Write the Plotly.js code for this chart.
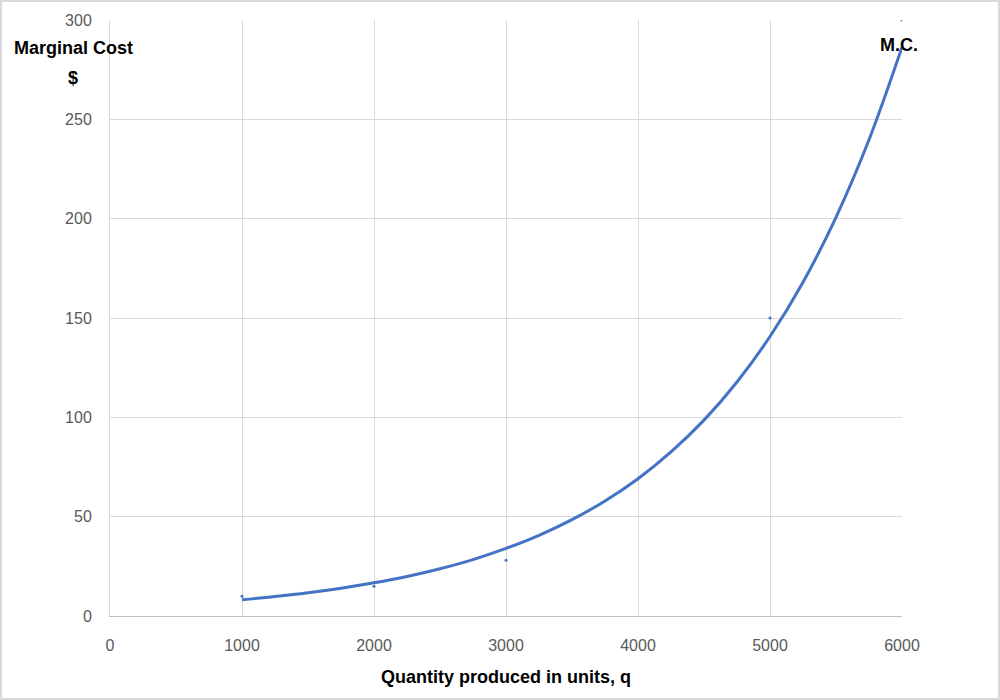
<!DOCTYPE html>
<html>
<head>
<meta charset="utf-8">
<script src="https://cdn.plot.ly/plotly-3.0.1.min.js"></script>
<style>
html,body{margin:0;padding:0;background:#fff;}
#chart{width:1000px;height:700px;box-sizing:border-box;border:2px solid #d9d9d9;}
</style>
</head>
<body>
<div id="chart"></div>
<script>
// Observed data points (tiny markers)
const pointQ = [1000, 2000, 3000, 5000, 6000];
const pointMC = [10, 15, 28, 150, 300];

// Fitted trend curve
const curveQ = [1000,1250,1500,1750,2000,2250,2500,2750,3000,3250,3500,3750,4000,4250,4500,4750,5000,5250,5500,5750,6000];
const curveMC = [8.2,9.8,11.7,14.0,16.7,19.9,23.8,28.4,34.0,40.6,48.5,57.9,69.1,82.6,98.6,117.8,140.7,168.0,200.7,239.7,286.3];

const xTicks = [0,1000,2000,3000,4000,5000,6000];
const yTicks = [0,50,100,150,200,250,300];

const blue = '#4472C4';
const font = 'Liberation Sans, Arial, sans-serif';

const traces = [
  {x: curveQ, y: curveMC, mode: 'lines', line: {color: blue, width: 3, shape: 'spline'}, hoverinfo: 'skip'},
  {x: pointQ, y: pointMC, mode: 'markers', marker: {color: blue, size: 3}}
];

const layout = {
  width: 996, height: 696,
  margin: {l: 108, r: 96, t: 18, b: 82},
  showlegend: false,
  paper_bgcolor: '#fff', plot_bgcolor: '#fff',
  font: {family: font, color: '#595959', size: 15},
  xaxis: {
    range: [0, 6000], tickvals: xTicks, ticktext: xTicks.map(String),
    showgrid: true, gridcolor: '#d9d9d9', gridwidth: 1,
    zeroline: false, showline: true, linecolor: '#bfbfbf', linewidth: 1,
    ticks: '', ticklabelstandoff: 15,
    tickfont: {size: 16, color: '#595959'},
    title: {text: 'Quantity produced in units, q', font: {size: 18, color: '#000', family: font, weight: 'bold'}, standoff: 17}
  },
  yaxis: {
    range: [0, 300], tickvals: yTicks, ticktext: yTicks.map(String),
    showgrid: true, gridcolor: '#d9d9d9', gridwidth: 1,
    zeroline: false, showline: true, linecolor: '#d9d9d9', linewidth: 1,
    ticks: '', ticklabelstandoff: 14,
    tickfont: {size: 16, color: '#595959'}
  },
  annotations: [
    {xref: 'paper', yref: 'paper', x: -0.0455, y: 0.953, text: '<b>Marginal Cost</b>', showarrow: false, font: {size: 18, color: '#000', family: font}, xanchor: 'center', yanchor: 'middle'},
    {xref: 'paper', yref: 'paper', x: -0.0467, y: 0.903, text: '<b>$</b>', showarrow: false, font: {size: 18, color: '#000', family: font}, xanchor: 'center', yanchor: 'middle'},
    {xref: 'paper', yref: 'paper', x: 0.996, y: 0.958, text: '<b>M.C.</b>', showarrow: false, font: {size: 18, color: '#000', family: font}, xanchor: 'center', yanchor: 'middle'}
  ]
};

Plotly.newPlot('chart', traces, layout, {displayModeBar: false, staticPlot: true});
</script>
</body>
</html>
